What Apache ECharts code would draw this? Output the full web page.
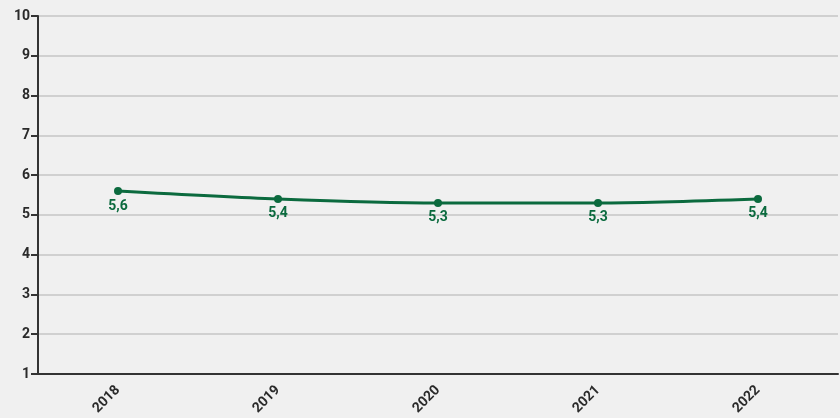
<!DOCTYPE html>
<html>
<head>
<meta charset="utf-8">
<script src="https://cdn.jsdelivr.net/npm/echarts@6/dist/echarts.min.js"></script>
<style>
  html, body { margin: 0; padding: 0; background: #f0f0f0; }
  #chart { width: 840px; height: 418px; }
</style>
</head>
<body>
<div id="chart"></div>
<script>
// Yearly values shown on the line
const years = ['2018', '2019', '2020', '2021', '2022'];
const values = [5.6, 5.4, 5.3, 5.3, 5.4];
const yTicks = { min: 1, max: 10, step: 1 };

const chart = echarts.init(document.getElementById('chart'));
chart.setOption({
  backgroundColor: '#f0f0f0',
  animation: false,
  grid: { left: 38, right: 2, top: 16, bottom: 44, containLabel: false },
  xAxis: {
    type: 'category',
    data: years,
    boundaryGap: true,
    axisLine: { lineStyle: { color: '#333', width: 2 } },
    axisTick: { alignWithLabel: true, length: 7, lineStyle: { color: '#333', width: 2 } },
    axisLabel: {
      rotate: 45, color: '#2a2a2a', fontFamily: 'Roboto', fontWeight: 'bold',
      fontSize: 14, margin: 14, padding: [0, 0, 0, 0]
    },
    splitLine: { show: false }
  },
  yAxis: {
    type: 'value',
    min: yTicks.min, max: yTicks.max, interval: yTicks.step,
    axisLine: { show: true, lineStyle: { color: '#333', width: 2 } },
    axisTick: { show: true, length: 7, lineStyle: { color: '#333', width: 2 } },
    axisLabel: {
      color: '#2a2a2a', fontFamily: 'Roboto', fontWeight: 'bold', fontSize: 14, margin: 8
    },
    splitLine: { lineStyle: { color: '#d0d0d0', width: 2 } }
  },
  series: [{
    type: 'line',
    data: values,
    smooth: 0.3,
    symbol: 'circle',
    symbolSize: 8,
    lineStyle: { color: '#0b6a3e', width: 3 },
    itemStyle: { color: '#0b6a3e' },
    label: {
      show: true, position: 'bottom', distance: 4,
      color: '#0b6a3e', fontFamily: 'Roboto', fontWeight: 'bold', fontSize: 14,
      formatter: p => String(p.value).replace('.', ',')
    }
  }]
});
</script>
</body>
</html>
